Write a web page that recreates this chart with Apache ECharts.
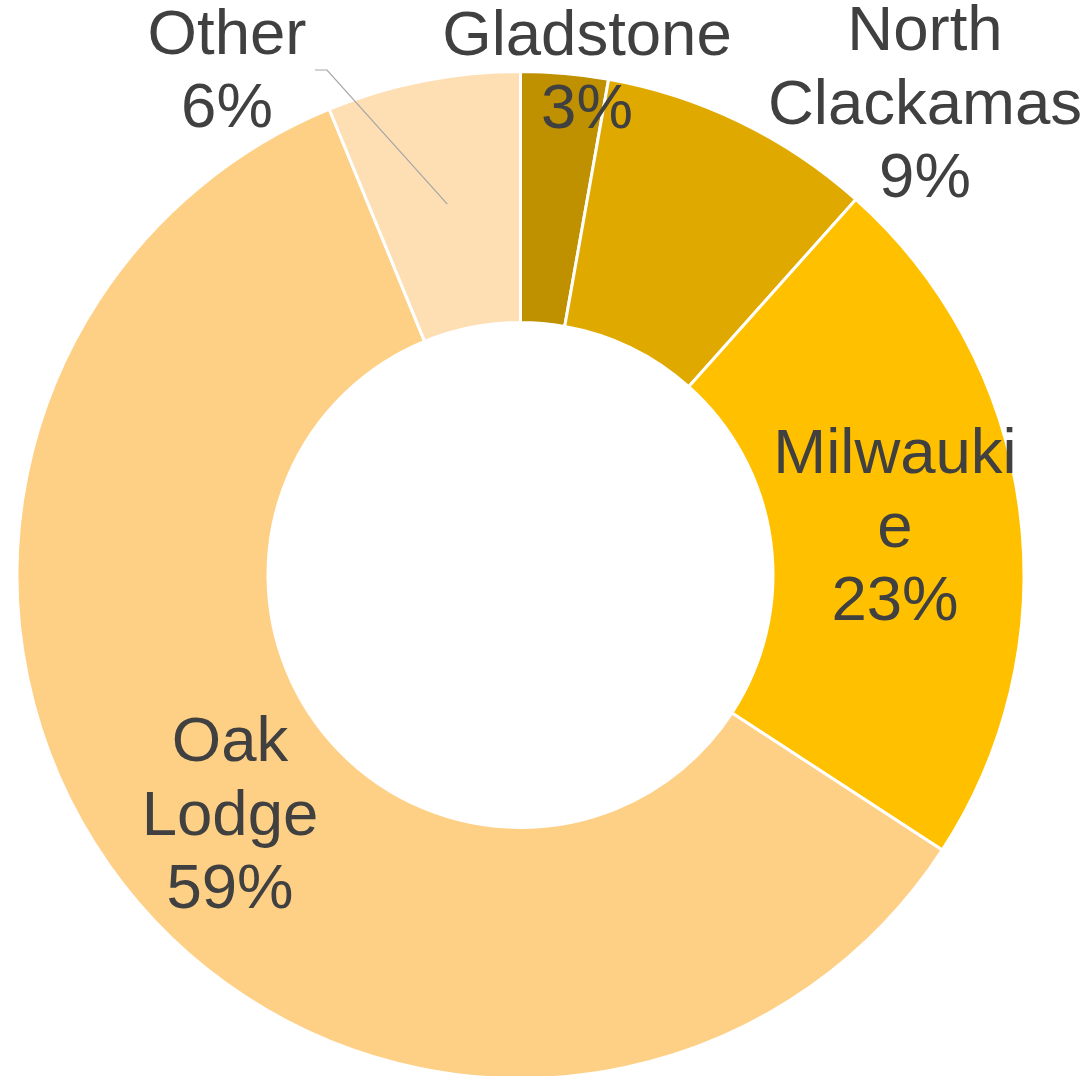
<!DOCTYPE html>
<html>
<head>
<meta charset="utf-8">
<script src="https://cdn.jsdelivr.net/npm/echarts@6/dist/echarts.min.js"></script>
<style>
html,body{margin:0;padding:0;background:#fff;}
#chart{width:1089px;height:1076px;}
</style>
</head>
<body>
<div id="chart"></div>
<script>
// Data
const categories = ["Gladstone", "North Clackamas", "Milwaukie", "Oak Lodge", "Other"];
const labelText = ["Gladstone", "North\nClackamas", "Milwauki\ne", "Oak\nLodge", "Other"];
const values = [2.8, 8.8, 22.6, 59.6, 6.2];
const percentText = ["3%", "9%", "23%", "59%", "6%"];
const colors = ["#BF9000", "#E0A900", "#FFC000", "#FED086", "#FEDFB4"];

// Label placement (layout only)
const labelPos = [
  {x: 587, y: 74},
  {x: 925, y: 106},
  {x: 895, y: 529},
  {x: 230, y: 817},
  {x: 227, y: 73}
];
const otherLeaderElbow = [[327, 70], [315, 70]];

const chart = echarts.init(document.getElementById('chart'), null, {renderer: 'canvas'});
chart.setOption({
  backgroundColor: '#ffffff',
  animation: false,
  series: [{
    type: 'pie',
    center: [520.5, 575],
    radius: [252.5, 503.5],
    startAngle: 90,
    clockwise: true,
    avoidLabelOverlap: false,
    itemStyle: {borderColor: '#ffffff', borderWidth: 3},
    label: {
      show: true,
      position: 'outside',
      fontFamily: '"Liberation Sans", Arial, sans-serif',
      fontSize: 63.5,
      lineHeight: 73.5,
      color: '#404040',
      align: 'center',
      formatter: p => labelText[p.dataIndex] + '\n' + percentText[p.dataIndex]
    },
    labelLine: {show: false},
    labelLayout: function (params) {
      const pos = labelPos[params.dataIndex];
      return {x: pos.x, y: pos.y, align: 'center', verticalAlign: 'middle', hideOverlap: false};
    },
    data: categories.map((c, i) => ({
      name: c,
      value: values[i],
      itemStyle: {color: colors[i]}
    }))
  }]
});

// Leader line for "Other": starts at the sector's centroid taken from the pie layout
const lay = chart.getModel().getSeriesByIndex(0).getData().getItemLayout(4);
const mid = (lay.startAngle + lay.endAngle) / 2;
const rm = (lay.r + lay.r0) / 2;
const start = [lay.cx + rm * Math.cos(mid), lay.cy + rm * Math.sin(mid)];
chart.setOption({
  graphic: [{
    type: 'polyline',
    z: 100,
    shape: {points: [start].concat(otherLeaderElbow)},
    style: {stroke: '#A6A6A6', lineWidth: 1.2, fill: null}
  }]
});
</script>
</body>
</html>
